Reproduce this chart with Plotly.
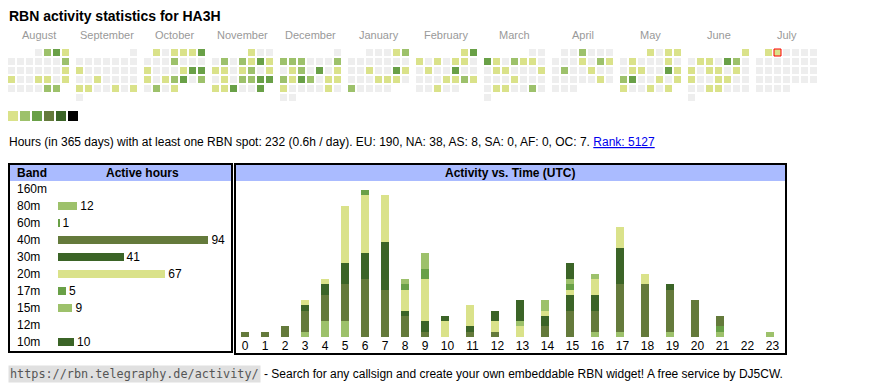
import datetime as dt
import plotly.graph_objects as go

W, H = 870, 390

# ---------------- data ----------------
title = "RBN activity statistics for HA3H"

month_names = ["August", "September", "October", "November", "December", "January",
               "February", "March", "April", "May", "June", "July"]
month_years = [(2024, 8), (2024, 9), (2024, 10), (2024, 11), (2024, 12), (2025, 1),
               (2025, 2), (2025, 3), (2025, 4), (2025, 5), (2025, 6), (2025, 7)]

# activity level per day (0 = none ... 6 = max)
aug = [0, 2, 3, 1, 0, 0, 0, 0, 0, 0, 2, 0, 0, 0, 0, 0, 0, 1, 1, 0, 0, 1, 1, 0, 1, 0, 0, 0, 0, 2, 2]
sep = [0, 0, 0, 0, 0, 0, 0, 0, 1, 0, 0, 0, 0, 0, 0, 0, 0, 1, 0, 0, 0, 0, 1, 1, 0, 0, 1, 0, 1, 0]
oct_ = [1, 0, 1, 1, 1, 3, 0, 0, 0, 2, 0, 0, 0, 1, 0, 0, 0, 1, 3, 3, 1, 0, 1, 2, 3, 0, 2, 0, 2, 0, 1]
nov = [1, 0, 0, 0, 2, 0, 2, 1, 3, 1, 1, 1, 0, 1, 2, 0, 1, 0, 1, 0, 2, 2, 3, 3, 1, 1, 3, 0, 0, 3]
dec = [0, 2, 2, 2, 0, 0, 0, 2, 0, 1, 2, 0, 3, 0, 1, 2, 1, 3, 2, 0, 1, 1, 1, 0, 0, 0, 0, 1, 0, 0, 0]
jan = [0, 0, 0, 1, 2, 0, 0, 0, 0, 0, 0, 0, 0, 0, 1, 0, 0, 3, 1, 0, 0, 0, 1, 1, 1, 0, 2, 0, 0, 0, 0]
feb = [1, 3, 1, 0, 1, 0, 1, 1, 0, 0, 1, 0, 0, 3, 0, 0, 0, 0, 0, 1, 1, 2, 1, 0, 0, 1, 0, 0]
mar = [0, 0, 3, 1, 0, 2, 1, 1, 0, 0, 1, 1, 0, 0, 0, 1, 0, 0, 0, 1, 0, 0, 0, 0, 1, 1, 0, 0, 2, 0, 0]
apr = [0, 0, 2, 0, 0, 0, 0, 0, 0, 1, 0, 2, 1, 0, 2, 0, 0, 1, 0, 0, 0, 0, 0, 0, 0, 1, 0, 0, 0, 0]
may = [1, 0, 1, 1, 0, 1, 0, 0, 0, 1, 0, 0, 1, 1, 0, 0, 3, 1, 2, 3, 0, 0, 1, 0, 1, 1, 0, 0, 1, 0, 1]
jun = [1, 0, 1, 1, 0, 3, 2, 0, 1, 0, 1, 1, 0, 1, 0, 1, 0, 0, 1, 1, 0, 0, 0, 0, 1, 1, 0, 0, 0, 0]
jul = [1, 1, 0, 0, 0, 0, 0, 0, 0, 0, 0, 0, 0, 0, 0, 0, 0, 0, 0, 0, 0, 0, 0, 0, 0, 0, 0, 0, 0, 0, 0]
day_levels = [aug, sep, oct_, nov, dec, jan, feb, mar, apr, may, jun, jul]
today = dt.date(2025, 7, 2)

level_colors = ["#eeeeee", "#dae28a", "#9dc16b", "#69a047", "#647a3b", "#3b6427", "#000000"]
legend_levels = [1, 2, 3, 4, 5, 6]

hours_total = 232
hours_per_day = "0.6h"
continents = ["EU", "NA", "AS", "SA", "AF", "OC"]
continent_hours = [190, 38, 8, 0, 0, 7]
rank = 5127

bands = ["160m", "80m", "60m", "40m", "30m", "20m", "17m", "15m", "12m", "10m"]
band_hours = [0, 12, 1, 94, 41, 67, 5, 9, 0, 10]
band_level = [1, 2, 3, 4, 5, 1, 3, 2, 4, 5]

hours = ["0", "1", "2", "3", "4", "5", "6", "7", "8", "9", "10", "11",
         "12", "13", "14", "15", "16", "17", "18", "19", "20", "21", "22", "23"]
hour_band = {
    "160m": [0, 0, 0, 0, 0, 0, 0, 0, 0, 0, 0, 0, 0, 0, 0, 0, 0, 0, 0, 0, 0, 0, 0, 0],
    "80m":  [0, 0, 0, 1, 3, 3, 0, 0, 0, 0, 0, 0, 0, 0, 0, 0, 1, 1, 0, 1, 0, 1, 0, 1],
    "60m":  [0, 0, 0, 0, 0, 0, 0, 0, 0, 0, 0, 0, 0, 0, 0, 0, 0, 0, 0, 0, 0, 1, 0, 0],
    "40m":  [1, 1, 2, 4, 5, 7, 11, 9, 4, 1, 0, 1, 1, 0, 2, 5, 4, 9, 10, 8, 7, 2, 0, 0],
    "30m":  [0, 0, 0, 1, 2, 4, 5, 9, 1, 2, 0, 1, 0, 0, 2, 3, 3, 7, 0, 1, 0, 0, 0, 0],
    "20m":  [0, 0, 0, 1, 1, 11, 11, 9, 4, 8, 3, 4, 2, 2, 1, 1, 3, 4, 2, 0, 0, 0, 0, 0],
    "17m":  [0, 0, 0, 0, 0, 0, 1, 0, 1, 2, 0, 0, 0, 0, 0, 1, 0, 0, 0, 0, 0, 0, 0, 0],
    "15m":  [0, 0, 0, 0, 0, 0, 0, 0, 1, 3, 0, 0, 0, 1, 2, 1, 1, 0, 0, 0, 0, 0, 0, 0],
    "12m":  [0, 0, 0, 0, 0, 0, 0, 0, 0, 0, 0, 0, 0, 0, 0, 0, 0, 0, 0, 0, 0, 0, 0, 0],
    "10m":  [0, 0, 0, 0, 0, 0, 0, 0, 0, 0, 1, 0, 2, 4, 0, 3, 0, 0, 0, 0, 0, 0, 0, 0],
}

# ---------------- layout constants (pixels) ----------------
FONT = "Liberation Sans, Arial, Helvetica, sans-serif"
MONO = "DejaVu Sans Mono, monospace"
CAL_X0, CAL_Y0, BLOCK, PITCH, CELL = 8, 49, 68, 9, 7
HEADER_BLUE = "#aabbff"


def py(y):
    return 1 - y / H


fig = go.Figure()

# ---- calendar heat map ----
cx, cy, cc, lw = [], [], [], []
for b, ((yy, mm), lv) in enumerate(zip(month_years, day_levels)):
    first = dt.date(yy, mm, 1).weekday()
    for d, v in enumerate(lv):
        k = first + d
        col, row = k % 7, k // 7
        cx.append(CAL_X0 + b * BLOCK + col * PITCH + CELL / 2)
        cy.append(CAL_Y0 + row * PITCH + CELL / 2)
        cc.append(level_colors[v])
        lw.append(1 if dt.date(yy, mm, d + 1) == today else 0)

fig.add_trace(go.Scatter(
    x=cx, y=cy, mode="markers", xaxis="x", yaxis="y",
    marker=dict(symbol="square", size=CELL, color=cc,
                line=dict(width=lw, color="#ff0000")),
    hoverinfo="skip", showlegend=False))

# legend squares
fig.add_trace(go.Scatter(
    x=[CAL_X0 + 5 + 12 * i for i in range(len(legend_levels))],
    y=[116] * len(legend_levels), mode="markers", xaxis="x", yaxis="y",
    marker=dict(symbol="square", size=10, color=[level_colors[l] for l in legend_levels],
                line=dict(width=0)),
    hoverinfo="skip", showlegend=False))

annotations = []
for b, name in enumerate(month_names):
    annotations.append(dict(x=CAL_X0 + b * BLOCK + (7 * PITCH - 2) / 2, y=35, xref="x", yref="y",
                            text=name, showarrow=False, xanchor="center", yanchor="middle",
                            font=dict(family=FONT, size=11, color="#999999")))

annotations.append(dict(x=7, y=16, xref="x", yref="y", text="<b>%s</b>" % title,
                        showarrow=False, xanchor="left", yanchor="middle",
                        font=dict(family=FONT, size=14, color="#000000")))

cont_txt = ", ".join("%s: %d" % (c, v) for c, v in zip(continents, continent_hours))
summary = ("Hours (in 365 days) with at least one RBN spot: %d (%s / day). %s. "
           "<span style='color:#0000ee'><u>Rank: %d</u></span>"
           % (hours_total, hours_per_day, cont_txt, rank))
annotations.append(dict(x=7, y=142, xref="x", yref="y", text=summary, showarrow=False,
                        xanchor="left", yanchor="middle",
                        font=dict(family=FONT, size=12, color="#000000")))

# ---- band table ----
fig.add_trace(go.Bar(
    y=bands, x=band_hours, orientation="h", xaxis="x2", yaxis="y2",
    marker=dict(color=[level_colors[l] for l in band_level], line=dict(width=0)),
    width=0.42, text=[str(v) if v else "" for v in band_hours],
    textposition="outside", constraintext="none", cliponaxis=False,
    textfont=dict(family=FONT, size=12, color="#000000"),
    hoverinfo="skip", showlegend=False))

for bnd in bands:
    annotations.append(dict(x=15, y=bnd, xref="x", yref="y2", text=bnd, showarrow=False,
                            xanchor="left", yanchor="middle",
                            font=dict(family=FONT, size=12, color="#000000")))

annotations.append(dict(x=15, y=173, xref="x", yref="y", text="<b>Band</b>", showarrow=False,
                        xanchor="left", yanchor="middle", font=dict(family=FONT, size=12, color="#000")))
annotations.append(dict(x=142, y=173, xref="x", yref="y", text="<b>Active hours</b>", showarrow=False,
                        xanchor="center", yanchor="middle", font=dict(family=FONT, size=12, color="#000")))
annotations.append(dict(x=510, y=173, xref="x", yref="y", text="<b>Activity vs. Time (UTC)</b>",
                        showarrow=False, xanchor="center", yanchor="middle",
                        font=dict(family=FONT, size=12, color="#000")))

# ---- hour-of-day stacked bars ----
col_w = [20 if len(h) == 1 else 25 for h in hours]
lefts = []
acc = 0
for w in col_w:
    lefts.append(acc)
    acc += w
bar_x = [l + 10 for l in lefts]
lab_x = [l + w / 2 for l, w in zip(lefts, col_w)]

for bnd, lvl in zip(bands, band_level):
    fig.add_trace(go.Bar(
        x=bar_x, y=hour_band[bnd], width=8, xaxis="x3", yaxis="y3",
        marker=dict(color=level_colors[lvl], line=dict(width=0)),
        hoverinfo="skip", showlegend=False, name=bnd))

# ---- footer ----
annotations.append(dict(x=8, y=374, xref="x", yref="y", text="https://rbn.telegraphy.de/activity/",
                        showarrow=False, xanchor="left", yanchor="middle", bgcolor="#e0e0e0",
                        borderpad=1, font=dict(family=MONO, size=11.8, color="#555555")))
annotations.append(dict(x=262, y=374, xref="x", yref="y",
                        text="- Search for any callsign and create your own embeddable RBN widget! "
                             "A free service by DJ5CW.",
                        showarrow=False, xanchor="left", yanchor="middle",
                        font=dict(family=FONT, size=12, color="#000000")))

# ---- boxes ----
shapes = [
    dict(type="rect", xref="x", yref="y", x0=10, x1=231, y0=165, y1=181,
         fillcolor=HEADER_BLUE, line=dict(width=0), layer="below"),
    dict(type="rect", xref="x", yref="y", x0=236, x1=785, y0=165, y1=181,
         fillcolor=HEADER_BLUE, line=dict(width=0), layer="below"),
    dict(type="rect", xref="x", yref="y", x0=9, x1=232, y0=164, y1=352,
         line=dict(width=2, color="#000000"), layer="above"),
    dict(type="rect", xref="x", yref="y", x0=235, x1=786, y0=164, y1=354,
         line=dict(width=2, color="#000000"), layer="above"),
]

hidden = dict(visible=False, fixedrange=True, showgrid=False, zeroline=False)
fig.update_layout(
    width=W, height=H, autosize=False,
    margin=dict(l=0, r=0, t=0, b=0),
    paper_bgcolor="#ffffff", plot_bgcolor="rgba(0,0,0,0)",
    barmode="stack", hovermode=False, showlegend=False,
    font=dict(family=FONT, size=12, color="#000"),
    xaxis=dict(domain=[0, 1], range=[0, W], anchor="y", **hidden),
    yaxis=dict(domain=[0, 1], range=[H, 0], anchor="x", **hidden),
    xaxis2=dict(domain=[58 / W, 228 / W], range=[0, 170 / 1.6], anchor="y2", **hidden),
    yaxis2=dict(domain=[py(350.5), py(180.5)], type="category", categoryorder="array",
                categoryarray=bands, range=[len(bands) - 0.5, -0.5], anchor="x2", **hidden),
    xaxis3=dict(domain=[235 / W, 785 / W], range=[0, acc], anchor="y3",
                tickmode="array", tickvals=lab_x, ticktext=hours, ticks="",
                showgrid=False, zeroline=False, showline=False, fixedrange=True,
                tickfont=dict(family=FONT, size=12, color="#000")),
    yaxis3=dict(domain=[py(337), py(182)], range=[0, 29.5], anchor="x3", **hidden),
    annotations=annotations, shapes=shapes,
)

fig.write_html("out.html", config={"displayModeBar": False, "staticPlot": True},
               post_script="document.body.style.margin='0';")
